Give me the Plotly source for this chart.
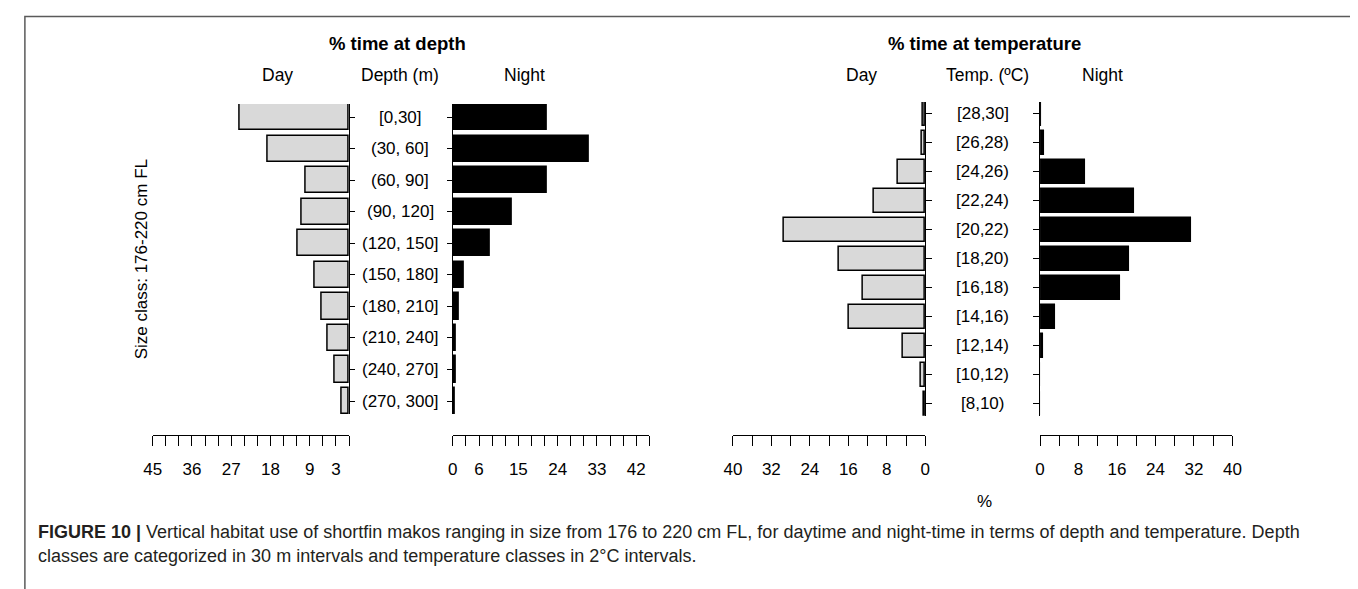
import plotly.graph_objects as go

W, H = 1358, 589

# ---------------- data ----------------
depth_classes = ["[0,30]", "(30, 60]", "(60, 90]", "(90, 120]", "(120, 150]",
                 "(150, 180]", "(180, 210]", "(210, 240]", "(240, 270]", "(270, 300]"]
depth_day = [25.0, 18.6, 9.9, 10.8, 11.8, 7.9, 6.3, 5.0, 3.3, 1.6]
depth_night = [21.5, 31.1, 21.5, 13.6, 8.5, 2.5, 1.4, 0.8, 0.8, 0.35]

temp_classes = ["[28,30]", "[26,28)", "[24,26)", "[22,24)", "[20,22)", "[18,20)",
                "[16,18)", "[14,16)", "[12,14)", "[10,12)", "[8,10)"]
temp_day = [0.4, 0.8, 5.6, 10.6, 29.5, 18.0, 12.9, 15.9, 4.7, 0.9, 0.2]
temp_night = [0.2, 0.9, 9.3, 19.5, 31.4, 18.6, 16.7, 3.2, 0.7, 0.1, 0.05]

depth_ticks = list(range(0, 46, 3))
depth_day_labels = {45: "45", 36: "36", 27: "27", 18: "18", 9: "9", 3: "3"}
depth_night_labels = {0: "0", 6: "6", 15: "15", 24: "24", 33: "33", 42: "42"}
temp_ticks = list(range(0, 41, 4))
temp_labels = {0: "0", 8: "8", 16: "16", 24: "24", 32: "32", 40: "40"}

# ---------------- helpers ----------------
FONT = "Liberation Sans, Arial, Helvetica, sans-serif"
def px(x):
    return x / W
def py(y):
    return 1 - y / H

DAY_FILL = "#d9d9d9"
BW = 0.83

fig = go.Figure()
fig.add_trace(go.Bar(y=depth_classes, x=depth_day, orientation="h", width=BW,
                     marker=dict(color=DAY_FILL, line=dict(color="black", width=1.5)),
                     xaxis="x", yaxis="y", showlegend=False, hoverinfo="x+y"))
fig.add_trace(go.Bar(y=depth_classes, x=depth_night, orientation="h", width=BW,
                     marker=dict(color="black", line=dict(color="black", width=1.5)),
                     xaxis="x2", yaxis="y2", showlegend=False, hoverinfo="x+y"))
fig.add_trace(go.Bar(y=temp_classes, x=temp_day, orientation="h", width=BW,
                     marker=dict(color=DAY_FILL, line=dict(color="black", width=1.5)),
                     xaxis="x3", yaxis="y3", showlegend=False, hoverinfo="x+y"))
fig.add_trace(go.Bar(y=temp_classes, x=temp_night, orientation="h", width=BW,
                     marker=dict(color="black", line=dict(color="black", width=1.5)),
                     xaxis="x4", yaxis="y4", showlegend=False, hoverinfo="x+y"))

AX_Y = 426.5
tickfont = dict(family=FONT, size=17, color="black")

def xaxis(domain_px, rng, ticks, labels):
    return dict(domain=[px(domain_px[0]), px(domain_px[1])], range=rng,
                anchor="free", position=py(AX_Y),
                showline=True, linecolor="black", linewidth=1.2,
                ticks="outside", ticklen=10, tickwidth=1.2, tickcolor="black",
                tickmode="array", tickvals=ticks,
                ticktext=[labels.get(t, "") for t in ticks],
                tickfont=tickfont, ticklabelstandoff=9,
                showgrid=False, zeroline=False, fixedrange=True)

def yaxis(domain_px, cats, side, anchor, ticklen):
    n = len(cats)
    half = BW / 2
    return dict(domain=[py(domain_px[1]), py(domain_px[0])],
                type="category", categoryorder="array", categoryarray=cats,
                range=[n - 1 + half, -half], side=side, anchor=anchor,
                showline=True, linecolor="black", linewidth=1.2,
                ticks="outside", ticklen=ticklen, tickwidth=1.2, tickcolor="black",
                showticklabels=False, showgrid=False, zeroline=False, fixedrange=True)

# depth rows: centers 109 .. 393 ; temperature rows: 106 .. 395.7
d_sp = (393 - 109) / 9
d_dom = (109 - BW / 2 * d_sp, 393 + BW / 2 * d_sp)
t_sp = (395.7 - 106) / 10
t_dom = (106 - BW / 2 * t_sp, 395.7 + BW / 2 * t_sp)

fig.update_layout(
    width=W, height=H, margin=dict(l=0, r=0, t=0, b=0),
    paper_bgcolor="white", plot_bgcolor="rgba(0,0,0,0)",
    font=dict(family=FONT, color="black"),
    xaxis=xaxis((137.5, 336.5), [45, 0], depth_ticks, depth_day_labels),
    yaxis=yaxis(d_dom, depth_classes, "right", "x", 5),
    xaxis2=xaxis((441.7, 640.9), [0, 45], depth_ticks, depth_night_labels),
    yaxis2=yaxis(d_dom, depth_classes, "left", "x2", 5),
    xaxis3=xaxis((725.5, 920.5), [40, 0], temp_ticks, temp_labels),
    yaxis3=yaxis(t_dom, temp_classes, "right", "x3", 6),
    xaxis4=xaxis((1036.8, 1231.8), [0, 40], temp_ticks, temp_labels),
    yaxis4=yaxis(t_dom, temp_classes, "left", "x4", 6),
    bargap=0,
)

ann = []
def text(x, y, s, size=17, bold=False, xanchor="center", color="black", **kw):
    ann.append(dict(x=px(x), y=py(y), xref="paper", yref="paper", text=s,
                    showarrow=False, xanchor=xanchor, yanchor="middle",
                    font=dict(family=FONT, size=size, color=color,
                              weight="bold" if bold else "normal"), **kw))

# category labels in the middle columns
for c in depth_classes:
    ann.append(dict(x=px(388.5), y=c, xref="paper", yref="y", text=c, showarrow=False,
                    xanchor="center", yanchor="middle",
                    font=dict(family=FONT, size=17, color="black")))
for c in temp_classes:
    ann.append(dict(x=px(978.5), y=c, xref="paper", yref="y3", text=c, showarrow=False,
                    xanchor="center", yanchor="middle",
                    font=dict(family=FONT, size=17, color="black")))

text(386, 35, "% time at depth", size=18.5, bold=True)
text(264, 67, "Day", size=17.5)
text(388, 67, "Depth (m)", size=17.5)
text(514, 67, "Night", size=17.5)

text(980, 35, "% time at temperature", size=18.5, bold=True)
text(856, 67, "Day", size=17.5)
text(984, 67, "Temp. (ºC)", size=17.5)
text(1100, 67, "Night", size=17.5)

text(980, 493, "%", size=17)
text(126, 251, "Size class: 176-220 cm FL", size=17, textangle=-90)

CAP = "#231f20"
text(19, 524, "<b>FIGURE 10 |</b> Vertical habitat use of shortfin makos ranging in size from 176 to 220 cm FL, "
     "for daytime and night-time in terms of depth and temperature. Depth",
     size=18, xanchor="left", color=CAP)
text(19, 548, "classes are categorized in 30 m intervals and temperature classes in 2°C intervals.",
     size=18, xanchor="left", color=CAP)

fig.update_layout(annotations=ann)

fig.add_shape(type="rect", xref="paper", yref="paper",
              x0=px(8), x1=px(1355.5), y0=py(8.5), y1=py(600),
              line=dict(color="#5a5a5a", width=1.5), fillcolor="rgba(0,0,0,0)", layer="below")

fig.write_html("out.html")
